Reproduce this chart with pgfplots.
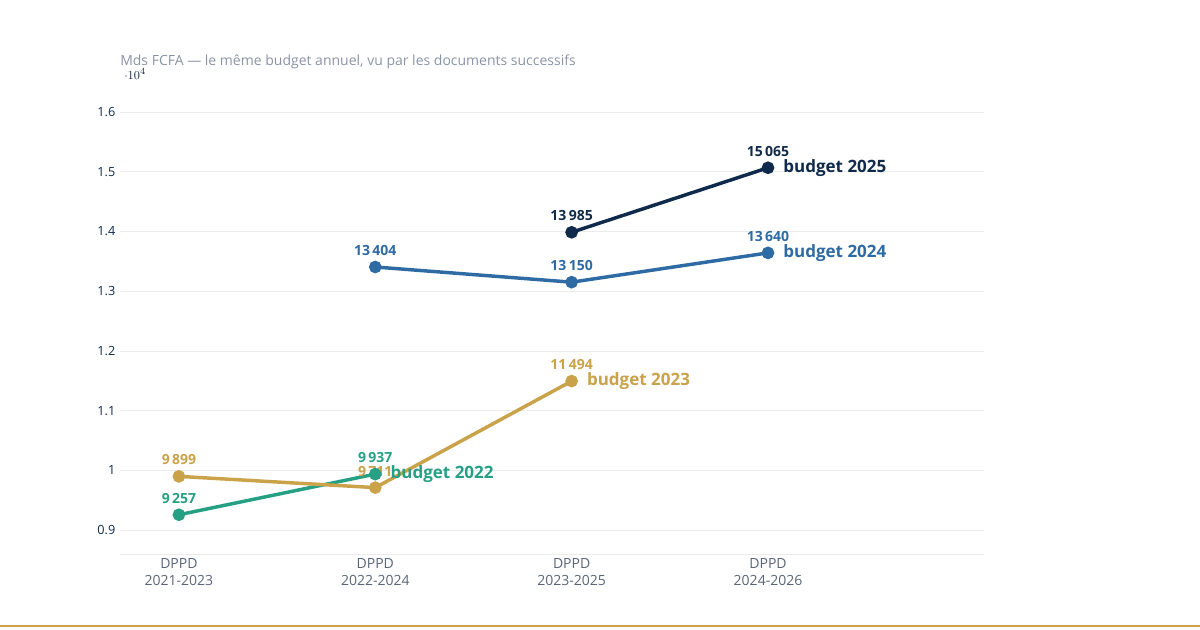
\documentclass[border=0pt]{standalone}
\usepackage{pgfplots}
\pgfplotsset{compat=1.18}
\usepackage{fontspec}
\setmainfont{Open Sans}
\definecolor{navy}{HTML}{0F2A4A}
\definecolor{bl}{HTML}{2E6AA3}
\definecolor{gold}{HTML}{C9A24A}
\definecolor{teal}{HTML}{26A085}
\definecolor{sub}{HTML}{8A94A6}
\definecolor{tick}{HTML}{5A6577}
\begin{document}
\begin{tikzpicture}
\path (0,0) rectangle (900pt,472.5pt);
\fill[gold] (0,1.9pt) rectangle (900pt,3.4pt);
\node[anchor=west,inner sep=0pt,text=sub,font=\fontsize{10.5}{12}\selectfont] at (90pt,426pt) {Mds FCFA — le même budget annuel, vu par les documents successifs};
\begin{axis}[at={(90pt,57pt)},anchor=south west,scale only axis,width=648pt,height=345pt,
 xmin=-0.3,xmax=4.1,ymin=8600,ymax=16300,
 xtick={0,1,2,3},xticklabels={{DPPD\\2021-2023},{DPPD\\2022-2024},{DPPD\\2023-2025},{DPPD\\2024-2026}},
 xticklabel style={align=center,text=tick,font=\fontsize{10.5}{12.5}\selectfont},
 ytick={9000,10000,...,16000},
 yticklabel style={text=navy,font=\fontsize{9.5}{11}\selectfont},
 /pgf/number format/assume math mode=true,
 /pgf/number format/1000 sep={},
 ymajorgrids,grid style={color=black!8},
 axis x line*=bottom, axis y line*=left, y axis line style={draw=none}, x axis line style={black!8,-},
 major tick length=0pt, clip=false,
 every axis plot/.append style={line width=2.6pt,mark=*,mark size=3.4pt}]
\addplot[teal] coordinates {(0,9257)(1,9937)};
\addplot[gold] coordinates {(0,9899)(1,9711)(2,11494)};
\addplot[bl] coordinates {(1,13404)(2,13150)(3,13640)};
\addplot[navy] coordinates {(2,13985)(3,15065)};
\tikzset{v/.style={font=\bfseries\fontsize{10.5}{12}\selectfont,anchor=south},s/.style={font=\bfseries\fontsize{12.75}{14}\selectfont,anchor=west}}
\node[v,text=teal] at (axis cs:0,9257) [yshift=5pt] {9\,257};
\node[v,text=teal] at (axis cs:1,9937) [yshift=5pt] {9\,937};
\node[v,text=gold] at (axis cs:0,9899) [yshift=5pt] {9\,899};
\node[v,text=gold] at (axis cs:1,9711) [yshift=5pt] {9\,711};
\node[v,text=gold] at (axis cs:2,11494) [yshift=5pt] {11\,494};
\node[v,text=bl] at (axis cs:1,13404) [yshift=5pt] {13\,404};
\node[v,text=bl] at (axis cs:2,13150) [yshift=5pt] {13\,150};
\node[v,text=bl] at (axis cs:3,13640) [yshift=5pt] {13\,640};
\node[v,text=navy] at (axis cs:2,13985) [yshift=5pt] {13\,985};
\node[v,text=navy] at (axis cs:3,15065) [yshift=5pt] {15\,065};
\node[s,text=teal] at (axis cs:1,9937) [xshift=8pt] {budget 2022};
\node[s,text=gold] at (axis cs:2,11494) [xshift=8pt] {budget 2023};
\node[s,text=bl] at (axis cs:3,13640) [xshift=8pt] {budget 2024};
\node[s,text=navy] at (axis cs:3,15065) [xshift=8pt] {budget 2025};
\end{axis}
\end{tikzpicture}
\end{document}
